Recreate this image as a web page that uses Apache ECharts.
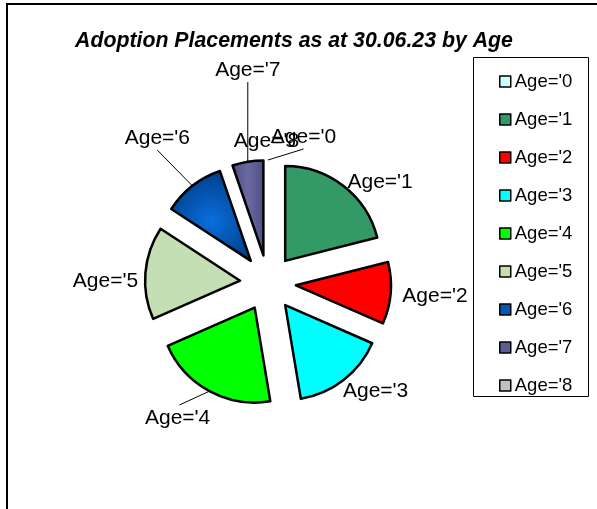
<!DOCTYPE html>
<html>
<head>
<meta charset="utf-8">
<script src="https://cdn.jsdelivr.net/npm/echarts@6/dist/echarts.min.js"></script>
<style>
html,body{margin:0;padding:0;background:#fff;}
#chart{width:597px;height:509px;}
</style>
</head>
<body>
<div id="chart"></div>
<script>
const titleText = "Adoption Placements as at 30.06.23 by Age";
const categories = ["Age='0", "Age='1", "Age='2", "Age='3", "Age='4", "Age='5", "Age='6", "Age='7", "Age='8"];
const values = [0, 4, 2, 3, 4, 3, 2, 1, 0];

const palette = ['#ccffff', '#339966', '#ff0000', '#00ffff', '#00ff00', '#c5dfb5',
  {type:'radial', x:0.5, y:0.55, r:0.6, colorStops:[{offset:0,color:'#0a6fdc'},{offset:1,color:'#003f8c'}]},
  {type:'linear', x:0, y:0, x2:1, y2:0, colorStops:[{offset:0,color:'#4e4e86'},{offset:0.5,color:'#6a6aa0'},{offset:1,color:'#4e4e86'}]},
  '#c0c0c0'];
const legendColors = ['#ccffff', '#339966', '#ff0000', '#00ffff', '#00ff00', '#c5dfb5', '#0058b8', '#5c5c94', '#c0c0c0'];

// label layout tweaks (Excel-like placement), relative to a radial base position
const CENTER = [268, 283];
const RADIUS = 95;
const OFFSET = 28;
const LABEL_R = 150;
const labelNudge = [[35.5, 4], [20, 18], [17.5, 1], [15.5, -10], [-19, 3], [-13, 11], [-18.5, -26.5], [4.5, -65], [-1.5, 8]];
const labelWithLine = [true, false, false, false, true, false, true, true, false];

const chart = echarts.init(document.getElementById('chart'), null, {renderer:'canvas'});
const FONT = 'Liberation Sans, Arial, sans-serif';

function midDir(idx, pts) {
  if (pts && pts[0]) {
    const dx = pts[0][0] - CENTER[0], dy = pts[0][1] - CENTER[1];
    const len = Math.hypot(dx, dy);
    if (len > 1) return [dx / len, dy / len];
  }
  const total = values.reduce((a, b) => a + b, 0);
  let cum = 0;
  for (let i = 0; i < idx; i++) cum += values[i];
  const a = (cum + values[idx] / 2) / total * Math.PI * 2;
  return [Math.sin(a), -Math.cos(a)];
}

const pieBase = {
  type: 'pie',
  center: CENTER,
  radius: [0, RADIUS],
  startAngle: 90,
  clockwise: true,
  avoidLabelOverlap: false,
  minShowLabelAngle: 0,
  emphasis: {disabled: true}
};

chart.setOption({
  animation: false,
  backgroundColor: '#fff',
  title: {
    text: titleText,
    left: 70, top: 26,
    textStyle: {fontFamily: FONT, fontSize: 21.3, fontWeight: 'bold', fontStyle: 'italic', color: '#000'}
  },
  legend: {
    orient: 'vertical',
    left: 499, top: 72,
    padding: 0,
    itemGap: 19,
    itemWidth: 11, itemHeight: 11,
    icon: 'rect',
    selectedMode: false,
    data: categories.map((c, i) => ({name: c, itemStyle: {color: legendColors[i], borderColor: '#000', borderWidth: 1.5}})),
    textStyle: {fontFamily: FONT, fontSize: 18.5, color: '#000', padding: [0,0,0,-1]}
  },
  graphic: [
    {type:'rect', shape:{x:7, y:4, width:620, height:560}, style:{fill:'none', stroke:'#000', lineWidth:2}, silent:true},
    {type:'rect', shape:{x:473.5, y:57.5, width:115, height:339}, style:{fill:'none', stroke:'#000', lineWidth:1}, silent:true}
  ],
  series: [
    Object.assign({}, pieBase, {
      name: 'slices',
      selectedMode: 'multiple',
      selectedOffset: OFFSET,
      itemStyle: {borderColor: '#000', borderWidth: 2.5},
      label: {show: false},
      labelLine: {show: false},
      data: categories.map((c, i) => ({
        name: c, value: values[i], selected: true,
        itemStyle: {color: palette[i], borderWidth: values[i] === 0 ? 0 : 2.5}
      }))
    }),
    Object.assign({}, pieBase, {
      name: 'labels',
      silent: true,
      selectedMode: false,
      itemStyle: {color: 'rgba(0,0,0,0)', borderWidth: 0},
      label: {show: true, position: 'outside', fontFamily: FONT, fontSize: 21, color: '#000', formatter: '{b}'},
      labelLine: {show: true, length: 8, length2: 4, lineStyle: {color: '#000', width: 1}},
      labelLayout: function (params) {
        const i = params.dataIndex;
        const d = midDir(i, params.labelLinePoints);
        const cx = CENTER[0] + d[0] * LABEL_R + labelNudge[i][0];
        const cy = CENTER[1] + d[1] * LABEL_R + labelNudge[i][1];
        const ax = CENTER[0] + d[0] * (RADIUS + OFFSET);
        const ay = CENTER[1] + d[1] * (RADIUS + OFFSET);
        let pts;
        if (labelWithLine[i]) {
          const ey = cy > ay ? cy - 13 : cy + 12;
          pts = [[ax, ay], [cx + (cy > ay ? 2 : 0), ey]];
        } else {
          pts = [[ax, ay], [ax, ay]];
        }
        return {x: cx, y: cy, align: 'center', verticalAlign: 'middle', labelLinePoints: pts};
      },
      data: categories.map((c, i) => ({name: c, value: values[i]}))
    })
  ]
});
</script>
</body>
</html>
